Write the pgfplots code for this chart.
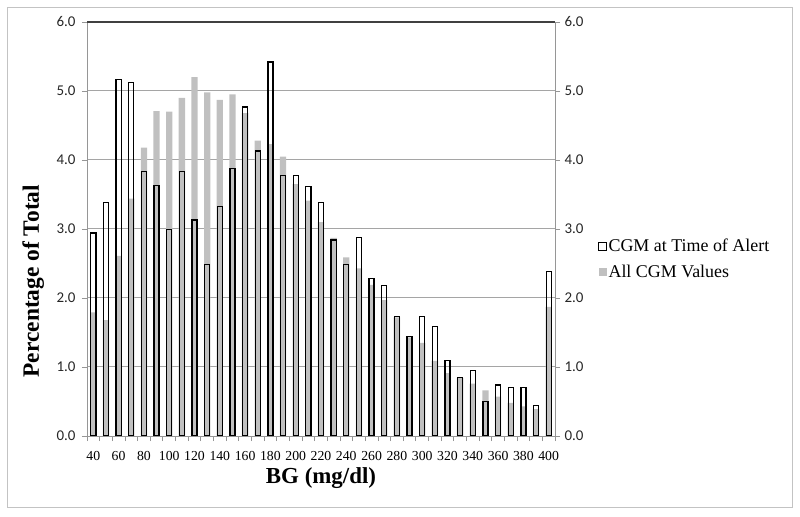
\documentclass[border=0pt]{standalone}
\usepackage{pgfplots}
\pgfplotsset{compat=1.18}
\usepackage{pgfplotstable}
\usepackage{fontspec}
\setmainfont{Liberation Serif}
\newfontfamily\calibri{Carlito}
\definecolor{barg}{RGB}{192,192,192}
\definecolor{gridg}{RGB}{165,165,165}
\definecolor{frameg}{RGB}{195,195,195}
\definecolor{axisg}{RGB}{150,150,150}

\pgfplotstableread{
bg alert all
40 2.94 1.79
50 3.38 1.68
60 5.17 2.61
70 5.12 3.44
80 3.83 4.18
90 3.63 4.71
100 2.99 4.70
110 3.83 4.90
120 3.13 5.20
130 2.49 4.98
140 3.33 4.87
150 3.88 4.95
160 4.77 4.68
170 4.13 4.28
180 5.42 4.23
190 3.78 4.05
200 3.78 3.65
210 3.62 3.41
220 3.38 3.10
230 2.84 2.87
240 2.49 2.59
250 2.88 2.43
260 2.28 2.19
270 2.18 1.97
280 1.73 1.72
290 1.44 1.43
300 1.73 1.35
310 1.59 1.09
320 1.09 0.91
330 0.85 0.84
340 0.95 0.76
350 0.50 0.66
360 0.74 0.57
370 0.70 0.48
380 0.70 0.43
390 0.44 0.39
400 2.38 1.87
}\data

\begin{document}
\begin{tikzpicture}
\useasboundingbox (0,0) rectangle (800bp,517bp);
\draw[frameg, line width=1bp] (7.5bp,9bp) rectangle (792bp,509.5bp);
\begin{axis}[
  at={(87bp,81bp)}, anchor=south west,
  scale only axis, width=468bp, height=414bp,
  xmin=35, xmax=405, ymin=0, ymax=6,
  axis line style={axisg, line width=0.8bp},
  ymajorgrids, grid style={gridg, line width=1bp},
  ytick={0,1,...,6}, ytick pos=left,
  xtick={35,45,...,405}, xticklabels={}, xtick pos=bottom,
  extra x ticks={40,60,...,400},
  extra x tick style={major tick length=0pt, grid=none,
    xticklabel style={font=\fontsize{13.8}{16}\selectfont, yshift=-6bp}},
  tick align=outside,
  major tick length=5bp,
  tick style={axisg, line width=0.8bp},
  /pgf/number format/assume math mode=true,
  yticklabel={\pgfmathprintnumber[fixed,fixed zerofill,precision=1]{\tick}},
  yticklabel style={font=\calibri\fontsize{15}{17}\selectfont, text=black!85, xshift=-3bp},
  xticklabel style={font=\fontsize{13.8}{16}\selectfont, yshift=-6bp, /pgf/number format/1000 sep={}},
  xlabel={\textbf{BG (mg/dl)}},
  ylabel={\textbf{Percentage of Total}},
  xlabel style={font=\fontsize{23}{26}\selectfont, at={(rel axis cs:0.5,-0.101)}, anchor=center},
  ylabel style={font=\fontsize{23.5}{26}\selectfont, at={(rel axis cs:-0.115,0.374)}, anchor=center},
  legend style={at={(1.092,0.4275)}, anchor=west, draw=none, fill=none,
    font=\fontsize{18}{21}\selectfont, row sep=9bp, inner sep=0pt,
    nodes={inner sep=1.5bp}},
  legend cell align=left,
  reverse legend,
]
\addplot[ybar, bar width=5.0, bar shift=0pt, fill=barg, draw=none,
  legend image code/.code={\fill[barg] (0bp,-4bp) rectangle (8bp,4bp);}]
  table[x=bg,y=all]{\data};
\addlegendentry{All CGM Values}
\addplot[ybar, bar width=4.0, bar shift=0pt, fill=none, draw=black, line width=1.3bp,
  legend image code/.code={\draw[black, line width=0.8bp] (0bp,-4bp) rectangle (8bp,4bp);}]
  table[x=bg,y=alert]{\data};
\addlegendentry{CGM at Time of Alert}
\draw[black!75, line width=1.2bp] (rel axis cs:0,1) -- (rel axis cs:1,1);
\end{axis}
\begin{axis}[
  at={(87bp,81bp)}, anchor=south west,
  scale only axis, width=468bp, height=414bp,
  xmin=35, xmax=405, ymin=0, ymax=6,
  axis y line*=right, hide x axis,
  axis line style={axisg, line width=0.8bp},
  ytick={0,1,...,6},
  tick align=outside, major tick length=5bp,
  tick style={axisg, line width=0.8bp},
  /pgf/number format/assume math mode=true,
  yticklabel={\pgfmathprintnumber[fixed,fixed zerofill,precision=1]{\tick}},
  yticklabel style={font=\calibri\fontsize{15}{17}\selectfont, text=black!85, xshift=1bp},
]
\end{axis}
\end{tikzpicture}
\end{document}
